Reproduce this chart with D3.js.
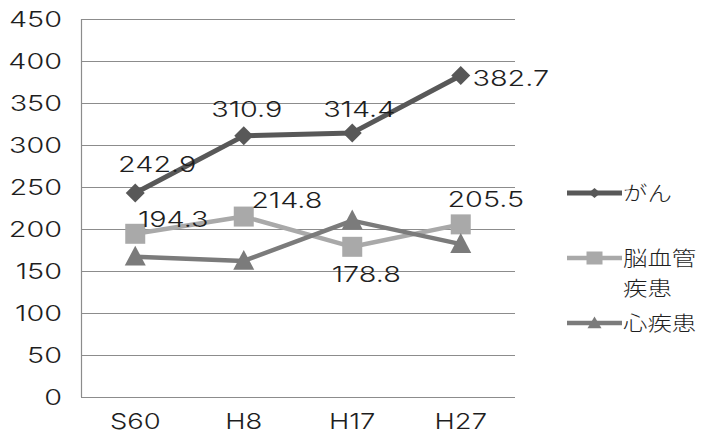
<!DOCTYPE html>
<html>
<head>
<meta charset="utf-8">
<script src="https://cdn.jsdelivr.net/npm/d3@7"></script>
<style>
  html, body { margin: 0; padding: 0; background: #fff; }
  svg { display: block; }
</style>
</head>
<body>
<svg id="chart" width="701" height="436"></svg>
<script>
// Periods (昭和60年, 平成8/17/27年)
const categories = ["S60", "H8", "H17", "H27"];
// Death rates per series
const cancerValues = [242.9, 310.9, 314.4, 382.7];
const strokeValues = [194.3, 214.8, 178.8, 205.5];
const heartValues = [167, 162, 210, 182];
const yTicks = [0, 50, 100, 150, 200, 250, 300, 350, 400, 450];
const seriesNames = ["がん", "脳血管疾患", "心疾患"];

// Data-label placement relative to each point (dx, dy to baseline); null = no label
const labelOffsets = {
  cancer: [[22, -21], [3, -19], [7, -16], [50, 10]],
  stroke: [[38, -7], [43, -9], [14, 35], [25, -17]],
  heart: [null, null, null, null]
};

const svg = d3.select("#chart");
const margin = { left: 81, right: 186, top: 19, bottom: 39 };
const W = 701, H = 436;
const plotW = W - margin.left - margin.right;
const plotH = H - margin.top - margin.bottom;

const x = d3.scaleBand().domain(categories).range([margin.left, margin.left + plotW]);
const y = d3.scaleLinear().domain([0, 450]).range([margin.top + plotH, margin.top]);
const cx = d => x(d) + x.bandwidth() / 2;

const numFont = "Inter, 'Liberation Sans', Arial, sans-serif";
const numWeight = 300;
const jpFont = "'Noto Sans CJK JP', sans-serif";
const textColor = "#1e1e1e";

// Horizontal stretch so that a digit advances about 18px at 22px size
const probe = svg.append("text").attr("font-family", numFont).attr("font-weight", numWeight)
  .attr("font-size", 22).text("0000000000");
const digitW = probe.node().getComputedTextLength() / 10;
probe.remove();
const numSx = 17.8 / digitW;

function wideText(g, tx, ty, str, opts) {
  const o = Object.assign({ size: 22, sx: numSx, anchor: "middle", font: numFont, weight: numWeight }, opts || {});
  return g.append("text")
    .attr("transform", `translate(${tx},${ty}) scale(${o.sx},1)`)
    .attr("text-anchor", o.anchor)
    .attr("font-family", o.font)
    .attr("font-weight", o.weight)
    .attr("font-size", o.size)
    .attr("fill", textColor)
    .text(str);
}

// Gridlines
const grid = svg.append("g");
grid.selectAll("line")
  .data(yTicks.filter(t => t > 0))
  .join("line")
  .attr("x1", margin.left).attr("x2", margin.left + plotW)
  .attr("y1", d => Math.round(y(d)) + 0.5).attr("y2", d => Math.round(y(d)) + 0.5)
  .attr("stroke", "#8c8c8c").attr("stroke-width", 1.2);

// Axis lines
svg.append("line")
  .attr("x1", margin.left + 0.5).attr("x2", margin.left + 0.5)
  .attr("y1", y(450)).attr("y2", y(0))
  .attr("stroke", "#8c8c8c").attr("stroke-width", 1.2);
svg.append("line")
  .attr("x1", margin.left).attr("x2", margin.left + plotW)
  .attr("y1", Math.round(y(0)) + 0.5).attr("y2", Math.round(y(0)) + 0.5)
  .attr("stroke", "#8c8c8c").attr("stroke-width", 1.2);

// Y tick labels
const yLab = svg.append("g");
yTicks.forEach(t => wideText(yLab, 62, y(t) + 8, String(t), { anchor: "end" }));

// X tick labels
const xLab = svg.append("g");
categories.forEach(c => wideText(xLab, cx(c), 429, c, { sx: numSx * 0.95 }));

// Marker shapes
const markerPath = {
  diamond: (w, h) => `M0,${-h}L${w},0L0,${h}L${-w},0Z`,
  square: (w, h) => `M${-w},${-h}H${w}V${h}H${-w}Z`,
  triangle: (w, h) => `M0,${-h}L${w},${h * 0.8}L${-w},${h * 0.8}Z`
};

const series = [
  { key: "cancer", values: cancerValues, color: "#585858", width: 5, marker: "diamond", mw: 9.5, mh: 9.5, lw: 6, lh: 5 },
  { key: "stroke", values: strokeValues, color: "#a9a9a9", width: 4.5, marker: "square", mw: 10, mh: 10, lw: 8, lh: 6.5 },
  { key: "heart", values: heartValues, color: "#7b7b7b", width: 4.5, marker: "triangle", mw: 10.5, mh: 11, lw: 7, lh: 6.5 }
];

const line = d3.line().x(d => cx(d.c)).y(d => y(d.v));

series.forEach(s => {
  const pts = categories.map((c, i) => ({ c, v: s.values[i] }));
  const g = svg.append("g");
  g.append("path").datum(pts)
    .attr("d", line)
    .attr("fill", "none")
    .attr("stroke", s.color)
    .attr("stroke-width", s.width)
    .attr("stroke-linejoin", "round");
  g.selectAll("path.mk").data(pts).join("path")
    .attr("class", "mk")
    .attr("transform", d => `translate(${cx(d.c)},${y(d.v)})`)
    .attr("d", markerPath[s.marker](s.mw, s.mh))
    .attr("fill", s.color);
});

// Data labels
const labels = svg.append("g");
series.forEach(s => {
  s.values.forEach((v, i) => {
    const off = labelOffsets[s.key][i];
    if (!off) return;
    wideText(labels, cx(categories[i]) + off[0], y(v) + off[1], v.toFixed(1));
  });
});

// Legend
const legend = svg.append("g");
const legendRows = [
  { s: series[0], y: 193, lines: ["がん"] },
  { s: series[1], y: 258, lines: ["脳血管", "疾患"] },
  { s: series[2], y: 323, lines: ["心疾患"] }
];
legendRows.forEach(r => {
  legend.append("line")
    .attr("x1", 567).attr("x2", 622)
    .attr("y1", r.y).attr("y2", r.y)
    .attr("stroke", r.s.color).attr("stroke-width", r.s.width);
  legend.append("path")
    .attr("transform", `translate(594.5,${r.y})`)
    .attr("d", markerPath[r.s.marker](r.s.lw, r.s.lh))
    .attr("fill", r.s.color);
  r.lines.forEach((t, k) => {
    wideText(legend, 623, r.y + 8 + k * 30, t, { anchor: "start", font: jpFont, weight: 300, size: 20, sx: 1.22 });
  });
});
void seriesNames;
</script>
</body>
</html>
